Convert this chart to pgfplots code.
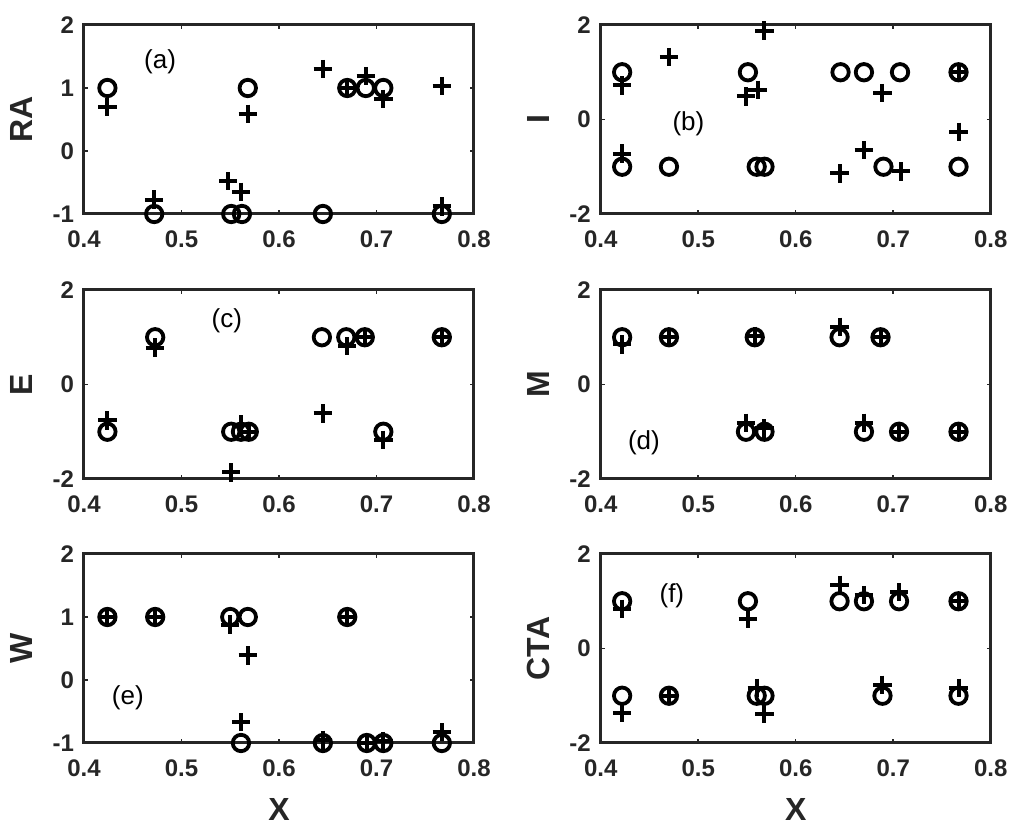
\documentclass[border=0pt]{standalone}
\usepackage{fontspec}
\setmainfont{Liberation Sans}
\usepackage{pgfplots}
\pgfplotsset{compat=1.18}
\definecolor{axgray}{HTML}{262626}

\tikzset{tag/.style={font=\fontsize{13}{15}\selectfont}}
\pgfplotsset{
  panel/.style={
    scale only axis, width=195pt, height=94.5pt,
    xmin=0.4, xmax=0.8, xtick={0.4,0.5,0.6,0.7,0.8},
    tick align=inside, tick pos=both, major tick length=2pt,
    tick style={line width=0.8pt, color=axgray},
    axis line style={line width=1.5pt, color=axgray},
    tick label style={font=\fontsize{12}{14}\selectfont\bfseries, text=axgray},
    xticklabel style={/pgf/number format/.cd, fixed, fixed zerofill, precision=1, /tikz/.cd, yshift=-5pt},
    yticklabel style={xshift=-1.5pt},
    /pgf/number format/assume math mode=true,
    label style={font=\fontsize{16}{18}\selectfont\bfseries, text=axgray},
    ylabel style={at={(axis description cs:-0.16,0.5)}, anchor=center},
    xlabel style={at={(axis description cs:0.5,0)}, anchor=center, yshift=-33pt},
    clip=false,
  },
  rng1/.style={ymin=-1, ymax=2, ytick={-1,0,1,2}},
  rng2/.style={ymin=-2, ymax=2, ytick={-2,0,2}},
  circ/.style={only marks, mark=o, mark size=4.1pt, mark options={line width=1.9pt}, black},
  crs/.style={only marks, mark=+, mark size=4.6pt, mark options={line width=2pt}, black},
}

\begin{document}
\begin{tikzpicture}
\useasboundingbox (0,0) rectangle (512pt,415.5pt);

% (a) RA
\begin{axis}[panel, rng1, at={(42pt,308.5pt)}, anchor=south west, ylabel={RA}]
\addplot[circ] coordinates {(0.424,1) (0.472,-1) (0.551,-1) (0.562,-1) (0.568,1) (0.645,-1) (0.670,1) (0.689,1) (0.707,1) (0.767,-1)};
\addplot[crs] coordinates {(0.424,0.70) (0.472,-0.77) (0.548,-0.48) (0.561,-0.65) (0.568,0.59) (0.645,1.30) (0.670,1.0) (0.689,1.19) (0.707,0.83) (0.767,1.03) (0.767,-0.88)};
\node[tag] at (axis cs:0.478,1.42) {(a)};
\end{axis}

% (b) I
\begin{axis}[panel, rng2, at={(300.35pt,308.5pt)}, anchor=south west, ylabel={I}]
\addplot[circ] coordinates {(0.422,1) (0.422,-1) (0.470,-1) (0.551,1) (0.560,-1) (0.568,-1) (0.646,1) (0.670,1) (0.690,-1) (0.707,1) (0.767,1) (0.767,-1)};
\addplot[crs] coordinates {(0.422,0.72) (0.422,-0.72) (0.470,1.32) (0.549,0.49) (0.561,0.63) (0.568,1.88) (0.645,-1.14) (0.670,-0.65) (0.689,0.56) (0.708,-1.10) (0.767,1.0) (0.767,-0.26)};
\node[tag] at (axis cs:0.490,-0.1) {(b)};
\end{axis}

% (c) E
\begin{axis}[panel, rng2, at={(42pt,176pt)}, anchor=south west, ylabel={E}]
\addplot[circ] coordinates {(0.424,-1) (0.473,1) (0.551,-1) (0.561,-1) (0.569,-1) (0.644,1) (0.669,1) (0.688,1) (0.707,-1) (0.767,1)};
\addplot[crs] coordinates {(0.424,-0.76) (0.473,0.78) (0.551,-1.86) (0.561,-0.85) (0.569,-1.0) (0.645,-0.61) (0.670,0.81) (0.688,1.0) (0.707,-1.17) (0.767,1.0)};
\node[tag] at (axis cs:0.5465,1.34) {(c)};
\end{axis}

% (d) M
\begin{axis}[panel, rng2, at={(300.35pt,176pt)}, anchor=south west, ylabel={M}]
\addplot[circ] coordinates {(0.422,1) (0.470,1) (0.558,1) (0.645,1) (0.687,1) (0.549,-1) (0.568,-1) (0.670,-1) (0.706,-1) (0.767,-1)};
\addplot[crs] coordinates {(0.422,0.85) (0.470,1.0) (0.558,1.03) (0.645,1.22) (0.687,1.0) (0.549,-0.81) (0.568,-0.93) (0.670,-0.81) (0.706,-1.0) (0.767,-1.0)};
\node[tag] at (axis cs:0.4443,-1.23) {(d)};
\end{axis}

% (e) W
\begin{axis}[panel, rng1, at={(42pt,44pt)}, anchor=south west, ylabel={W}, xlabel={X}]
\addplot[circ] coordinates {(0.424,1) (0.473,1) (0.550,1) (0.568,1) (0.670,1) (0.561,-1) (0.645,-1) (0.690,-1) (0.707,-1) (0.767,-1)};
\addplot[crs] coordinates {(0.424,1.0) (0.473,1.0) (0.550,0.88) (0.568,0.39) (0.561,-0.67) (0.670,1.0) (0.645,-0.95) (0.690,-1.0) (0.707,-0.97) (0.767,-0.83)};
\node[tag] at (axis cs:0.445,-0.29) {(e)};
\end{axis}

% (f) CTA
\begin{axis}[panel, rng2, at={(300.35pt,44pt)}, anchor=south west, ylabel={CTA}, xlabel={X}]
\addplot[circ] coordinates {(0.422,1) (0.422,-1) (0.470,-1) (0.551,1) (0.560,-1) (0.568,-1) (0.645,1) (0.670,1) (0.689,-1) (0.706,1) (0.767,1) (0.767,-1)};
\addplot[crs] coordinates {(0.422,0.84) (0.422,-1.36) (0.470,-1.0) (0.551,0.63) (0.560,-0.83) (0.568,-1.39) (0.645,1.35) (0.670,1.13) (0.689,-0.77) (0.706,1.19) (0.767,1.0) (0.767,-0.83)};
\node[tag] at (axis cs:0.473,1.12) {(f)};
\end{axis}
\end{tikzpicture}
\end{document}
